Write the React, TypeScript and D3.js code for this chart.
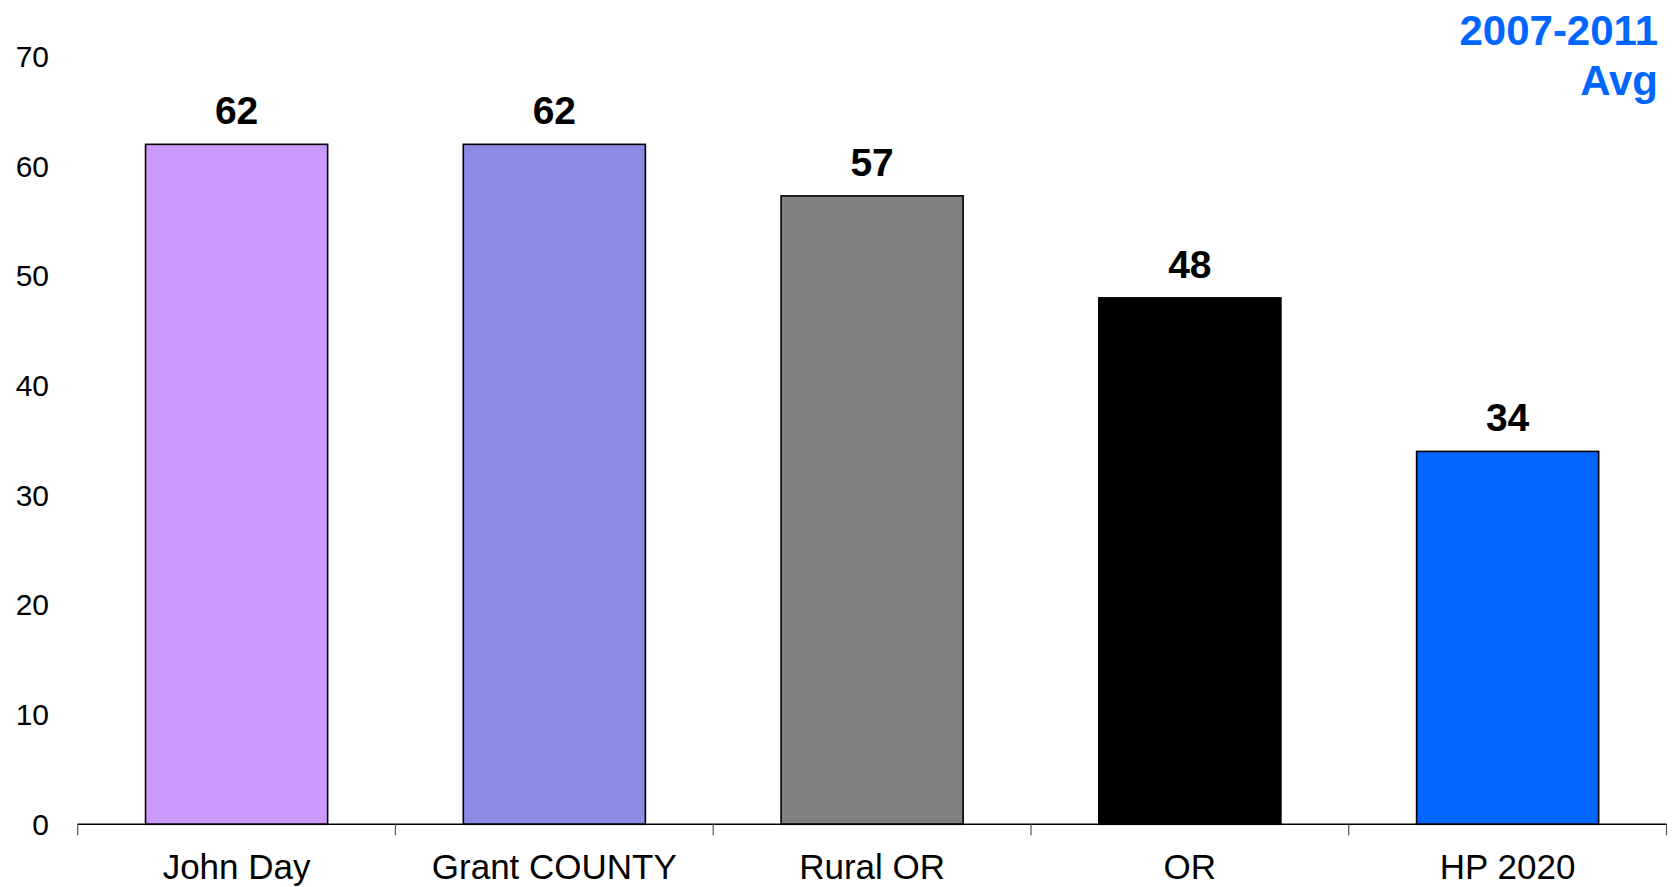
import React from "react";
import * as d3 from "d3";

// Rate by area, 2007-2011 average
const categories: string[] = ["John Day", "Grant COUNTY", "Rural OR", "OR", "HP 2020"];
const values: number[] = [62, 62, 57.3, 48, 34];
const barColors: string[] = ["#CC99FF", "#8B8BE6", "#808080", "#000000", "#0066FF"];
const yTicks: number[] = [0, 10, 20, 30, 40, 50, 60, 70];
const titleLines: string[] = ["2007-2011", "Avg"];

const W = 1675;
const H = 887;
const FONT = "'Liberation Sans', Arial, Helvetica, sans-serif";

export default function App() {
  const x = d3
    .scaleBand<string>()
    .domain(categories)
    .range([77.7, 1666.5])
    .paddingInner(0.427)
    .paddingOuter(0.2135);
  const step = x.step();
  const y = d3.scaleLinear().domain([0, 70]).range([824.3, 56.6]);
  const fmt = d3.format(".0f");

  const boundaries = d3.range(categories.length + 1).map((i) => 77.7 + i * step);

  return (
    <svg
      width={W}
      height={H}
      style={{ position: "absolute", left: 0, top: 0, background: "#fff" }}
      fontFamily={FONT}
    >
      <rect x={0} y={0} width={W} height={H} fill="#fff" />

      {/* y tick labels */}
      {yTicks.map((t) => (
        <text
          key={t}
          x={49}
          y={y(t)}
          textAnchor="end"
          dominantBaseline="central"
          fontSize={30}
          fill="#000"
        >
          {t}
        </text>
      ))}

      {/* bars */}
      {categories.map((c, i) => (
        <rect
          key={c}
          x={x(c)!}
          y={y(values[i])}
          width={x.bandwidth()}
          height={y(0) - y(values[i])}
          fill={barColors[i]}
          stroke="#000"
          strokeWidth={1.6}
        />
      ))}

      {/* value labels */}
      {categories.map((c, i) => (
        <text
          key={c}
          x={x(c)! + x.bandwidth() / 2}
          y={y(values[i]) - 20}
          textAnchor="middle"
          fontSize={39}
          fontWeight="bold"
          fill="#000"
        >
          {fmt(values[i])}
        </text>
      ))}

      {/* x axis */}
      <line x1={77.7} x2={1666.5} y1={y(0)} y2={y(0)} stroke="#000" strokeWidth={1.5} />
      {boundaries.map((bx, i) => (
        <line key={i} x1={bx} x2={bx} y1={y(0)} y2={y(0) + 11} stroke="#555" strokeWidth={1.2} />
      ))}
      {categories.map((c) => (
        <text
          key={c}
          x={x(c)! + x.bandwidth() / 2}
          y={879}
          textAnchor="middle"
          fontSize={35}
          fill="#000"
        >
          {c}
        </text>
      ))}

      {/* title */}
      {titleLines.map((t, i) => (
        <text
          key={t}
          x={1658}
          y={45 + i * 50}
          textAnchor="end"
          fontSize={42}
          fontWeight="bold"
          fill="#0066FF"
        >
          {t}
        </text>
      ))}
    </svg>
  );
}
